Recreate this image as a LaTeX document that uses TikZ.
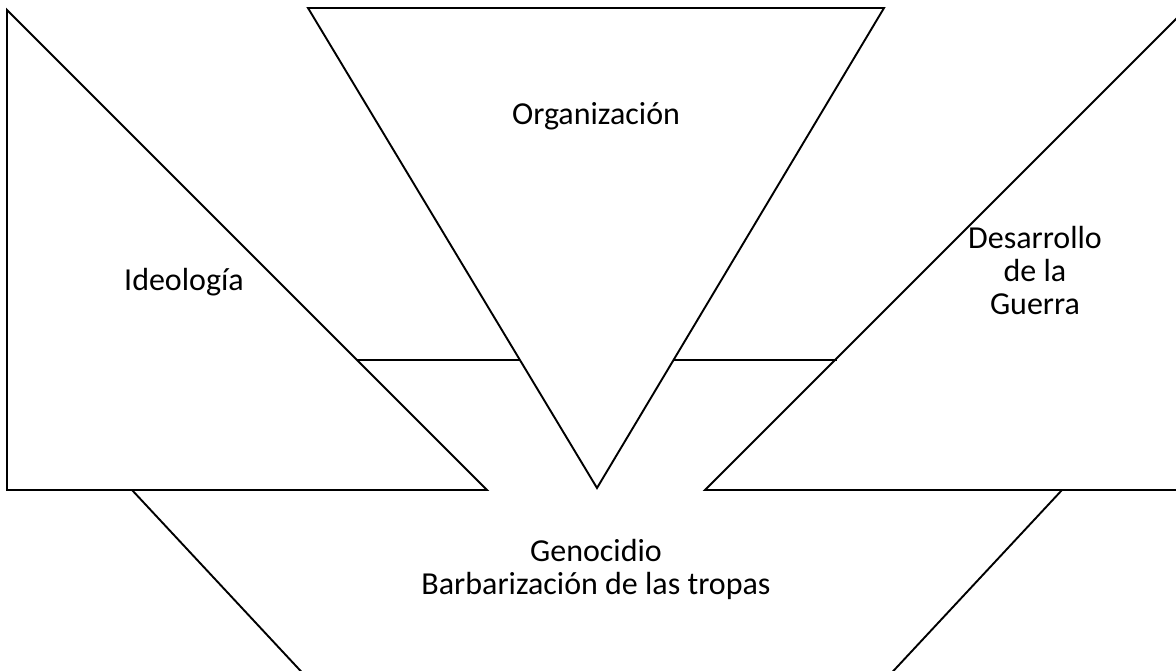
\documentclass[tikz,border=0pt]{standalone}
\usepackage{fontspec}
\setmainfont{Carlito}
\begin{document}
\begin{tikzpicture}[x=1pt,y=-1pt,
  shapeline/.style={line width=1.9pt, line join=miter},
  lbl/.style={font=\fontsize{32}{33}\selectfont, align=center, inner sep=0pt}]
\useasboundingbox (0,0) rectangle (1176,671);
\clip (0,0) rectangle (1176,671);
% left triangle
\coordinate (L1) at (7,10);
\coordinate (L2) at (7,490);
\coordinate (L3) at (487,490);
% middle inverted triangle
\coordinate (M1) at (308,8);
\coordinate (M2) at (884,8);
\coordinate (M3) at (597,488);
% right triangle (partly off the page)
\coordinate (R1) at (1187,8);
\coordinate (R2) at (705,490);
\coordinate (R3) at (1187,490);
% connectors
\coordinate (HL1) at (357,360);
\coordinate (HL2) at (520,360);
\coordinate (HR1) at (674,360);
\coordinate (HR2) at (837,360);
% lower trapezoid sides
\coordinate (B1) at (132,490);
\coordinate (B2) at (310,681);
\coordinate (B3) at (1062,490);
\coordinate (B4) at (884,681);

\draw[shapeline] (L1) -- (L2) -- (L3) -- cycle;
\draw[shapeline] (M1) -- (M2) -- (M3) -- cycle;
\draw[shapeline] (R1) -- (R2) -- (R3);
\draw[shapeline] (HL1) -- (HL2);
\draw[shapeline] (HR1) -- (HR2);
\draw[shapeline] (B1) -- (B2);
\draw[shapeline] (B3) -- (B4);

\node[lbl] (org) at (596,116) {Organización};
\node[lbl] (ide) at (184,282) {Ideología};
\node[lbl] (des) at (1035,271) {Desarrollo\\de la\\Guerra};
\node[lbl] (gen) at (596,569) {Genocidio\\Barbarización de las tropas};
\end{tikzpicture}
\end{document}
